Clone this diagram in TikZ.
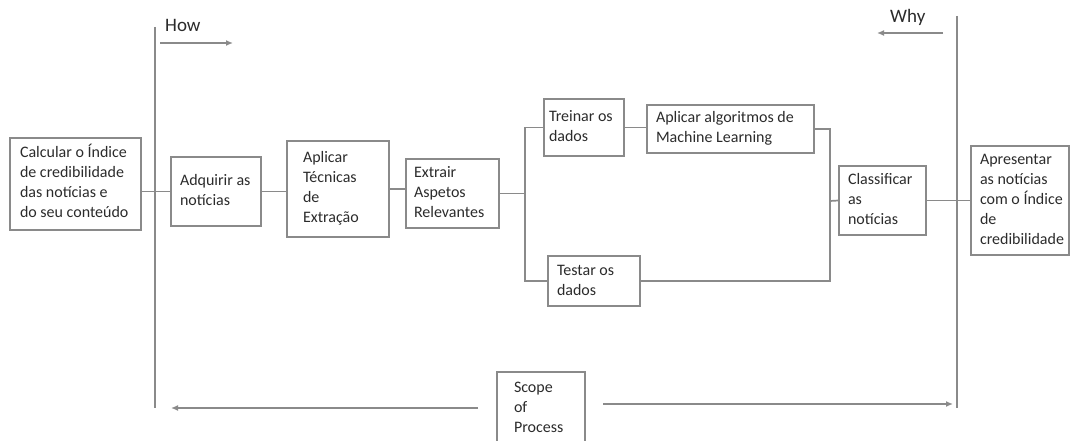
\documentclass[tikz,border=0pt]{standalone}
\usepackage{fontspec}
\setmainfont{Carlito}
\usetikzlibrary{arrows.meta}
\definecolor{linegray}{HTML}{8A8A8A}
\definecolor{inkgray}{HTML}{2B2B2B}
% left-aligned block of lines in a fixed-width slot
\newcommand\boxlines[2]{\makebox[#1][l]{\begin{tabular}{@{}l@{}}#2\end{tabular}}}
\begin{document}
\begin{tikzpicture}[x=1pt,y=-1pt,
  font=\fontsize{16}{20}\selectfont,
  every node/.style={text=inkgray},
  stepbox/.style={draw=linegray, line width=1.5pt, inner ysep=0pt, inner xsep=#1},
  link/.style={draw=linegray, line width=1.7pt},
  flow/.style={draw=linegray, line width=1.7pt, -{Latex[length=7pt,width=6pt]}},
  heading/.style={font=\fontsize{19}{22}\selectfont, inner sep=0pt}]
\useasboundingbox (0,0) rectangle (1072,441);

% process steps
\node[stepbox=10pt, minimum width=131pt, minimum height=92pt] (calc) at (75.5,184)
  {\boxlines{111pt}{Calcular o Índice\\de credibilidade\\das notícias e\\do seu conteúdo}};
\node[stepbox=9pt, minimum width=90pt, minimum height=69pt] (adq) at (216,191.5)
  {\boxlines{72pt}{Adquirir as\\notícias}};
\node[stepbox=16pt, minimum width=102pt, minimum height=96pt] (tec) at (338,189)
  {\boxlines{70pt}{Aplicar\\Técnicas\\de\\Extração}};
\node[stepbox=8pt, minimum width=93pt, minimum height=69pt] (ext) at (452.5,193.5)
  {\boxlines{77pt}{Extrair\\Aspetos\\Relevantes}};
\node[stepbox=5pt, minimum width=80pt, minimum height=57pt] (tre) at (584,127.5)
  {\boxlines{70pt}{Treinar os\\dados}};
\node[stepbox=9pt, minimum width=167pt, minimum height=48pt] (ml) at (730.5,129)
  {\boxlines{149pt}{Aplicar algoritmos de\\Machine Learning}};
\node[stepbox=9pt, minimum width=92pt, minimum height=50pt] (tes) at (594,281)
  {\boxlines{74pt}{Testar os\\dados}};
\node[stepbox=9pt, minimum width=87pt, minimum height=69pt] (cls) at (882.5,200.5)
  {\boxlines{69pt}{Classificar\\as\\notícias}};
\node[stepbox=9pt, minimum width=98pt, minimum height=109pt] (apr) at (1020,200.5)
  {\boxlines{80pt}{Apresentar\\as notícias\\com o Índice\\de\\credibilidade}};
\node[stepbox=17pt, minimum width=88pt, minimum height=72pt] (scope) at (541,408)
  {\boxlines{54pt}{Scope\\of\\Process}};

% scope boundaries
\coordinate (howtop) at (155,27);
\coordinate (howbot) at (155,408);
\coordinate (whytop) at (957,16);
\coordinate (whybot) at (957,408);
\draw[link] (howtop) -- (howbot);
\draw[link] (whytop) -- (whybot);

% How / Why headings
\node[heading, anchor=west] (how) at (165,25) {How};
\coordinate (howa) at (160,43);
\coordinate (howb) at (233,43);
\draw[flow] (howa) -- (howb);
\node[heading, anchor=west] (why) at (890,17) {Why};
\coordinate (whya) at (943,33);
\coordinate (whyb) at (877,33);
\draw[flow] (whya) -- (whyb);

% branch points
\coordinate (split) at (525,193.5);
\coordinate (merge) at (830,201);

% connectors
\draw[link] (calc.east |- adq) -- (adq.west);
\draw[link] (adq.east) -- (tec.west |- adq);
\draw[link] (tec.east) -- (ext.west |- tec);
\draw[link] (ext.east) -- (split);
\draw[link] (tre.west) -| (split) |- (tes.west);
\draw[link] (tre.east) -- (ml.west |- tre);
\draw[link] (ml.east) -| (merge) |- (tes.east);
\draw[link] (merge) -- (cls.west);
\draw[link] (cls.east) -- (apr.west |- cls);

% scope arrows
\coordinate (la) at (478,408);
\coordinate (lb) at (171,408);
\coordinate (ra) at (603,404);
\coordinate (rb) at (953,404);
\draw[flow] (la) -- (lb);
\draw[flow] (ra) -- (rb);
\end{tikzpicture}
\end{document}
